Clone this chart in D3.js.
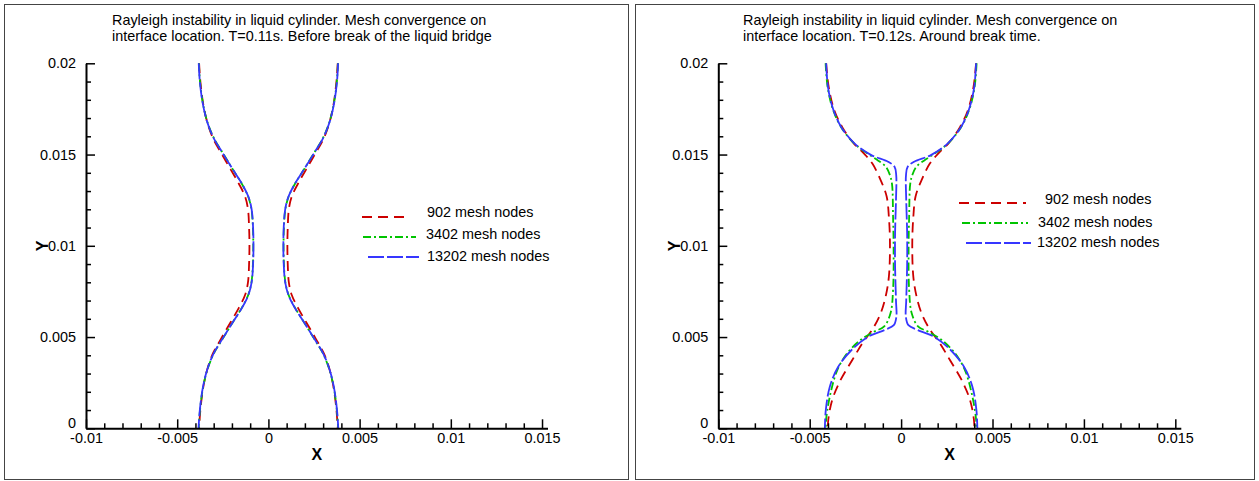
<!DOCTYPE html>
<html lang="en">
<head>
<meta charset="UTF-8">
<title>Rayleigh instability - mesh convergence</title>
<script src="https://d3js.org/d3.v7.min.js"></script>
<style>
  body { margin: 0; background: #fff; }
  svg { display: block; font-family: "Liberation Sans", Arial, Helvetica, sans-serif; }
  .frame { fill: none; stroke: #444; stroke-width: 1; }
  .axis .domain { stroke: #000; stroke-width: 2; }
  .axis line { stroke: #000; stroke-width: 1.5; }
  .axis text { font-size: 14.4px; fill: #000; font-family: "Liberation Sans", Arial, sans-serif; }
  .title, .legend text { font-size: 14.4px; fill: #000; }
  .axlabel { font-size: 16px; font-weight: bold; }
  .curve { fill: none; stroke-width: 1.8; }
</style>
</head>
<body>
<script>
// series
const seriesNames = ["902 mesh nodes", "3402 mesh nodes", "13202 mesh nodes"];
const seriesColors = ["#cc0000", "#00c400", "#3636ff"];
const seriesDash = ["10,6", "8,3,2,3", "16,3"];

// ticks
const xTicks = [-0.01, -0.005, 0, 0.005, 0.01, 0.015];
const xTickLabels = ["-0.01", "-0.005", "0", "0.005", "0.01", "0.015"];
const xMinor = [-0.009, -0.008, -0.007, -0.006, -0.004, -0.003, -0.002, -0.001,
  0.001, 0.002, 0.003, 0.004, 0.006, 0.007, 0.008, 0.009, 0.011, 0.012, 0.013, 0.014];
const yTicks = [0, 0.005, 0.01, 0.015, 0.02];
const yTickLabels = ["0", "0.005", "0.01", "0.015", "0.02"];
const yMinor = [0.001, 0.002, 0.003, 0.004, 0.006, 0.007, 0.008, 0.009,
  0.011, 0.012, 0.013, 0.014, 0.016, 0.017, 0.018, 0.019];

const titleA = ["Rayleigh instability in liquid cylinder. Mesh convergence on",
  "interface location. T=0.11s. Before break of the liquid bridge"];
const titleB = ["Rayleigh instability in liquid cylinder. Mesh convergence on",
  "interface location. T=0.12s. Around break time."];

// T=0.11s interface, y values and x of right / left branch
const a902_y  = [0.0200, 0.0190, 0.0178, 0.0168, 0.0159, 0.0151, 0.0142, 0.0134, 0.0127, 0.0120, 0.0110, 0.0100, 0.0090, 0.0080, 0.0073, 0.0066, 0.0058, 0.0049, 0.0041, 0.0032, 0.0022, 0.0010, 0.0000];
const a902_xr = [0.00380, 0.00373, 0.00358, 0.00336, 0.00304, 0.00260, 0.00208, 0.00162, 0.00128, 0.00112, 0.00106, 0.00104, 0.00106, 0.00112, 0.00128, 0.00162, 0.00208, 0.00260, 0.00304, 0.00336, 0.00358, 0.00373, 0.00380];
const a902_xl = [-0.00380, -0.00373, -0.00358, -0.00336, -0.00304, -0.00260, -0.00208, -0.00162, -0.00128, -0.00112, -0.00106, -0.00104, -0.00106, -0.00112, -0.00128, -0.00162, -0.00208, -0.00260, -0.00304, -0.00336, -0.00358, -0.00373, -0.00380];

const a3402_y  = [0.0200, 0.0190, 0.0178, 0.0168, 0.0159, 0.0151, 0.0142, 0.0134, 0.0127, 0.0120, 0.0110, 0.0100, 0.0090, 0.0080, 0.0073, 0.0066, 0.0058, 0.0049, 0.0041, 0.0032, 0.0022, 0.0010, 0.0000];
const a3402_xr = [0.00381, 0.00375, 0.00359, 0.00335, 0.00299, 0.00251, 0.00196, 0.00146, 0.00111, 0.00093, 0.00085, 0.00083, 0.00085, 0.00093, 0.00111, 0.00146, 0.00196, 0.00251, 0.00299, 0.00335, 0.00359, 0.00375, 0.00382];
const a3402_xl = [-0.00381, -0.00375, -0.00359, -0.00335, -0.00299, -0.00251, -0.00196, -0.00146, -0.00111, -0.00093, -0.00085, -0.00083, -0.00085, -0.00093, -0.00111, -0.00146, -0.00196, -0.00251, -0.00299, -0.00335, -0.00359, -0.00375, -0.00382];

const a13202_y  = [0.0200, 0.0190, 0.0178, 0.0168, 0.0159, 0.0151, 0.0142, 0.0134, 0.0127, 0.0120, 0.0110, 0.0100, 0.0090, 0.0080, 0.0073, 0.0066, 0.0058, 0.0049, 0.0041, 0.0032, 0.0022, 0.0010, 0.0000];
const a13202_xr = [0.00382, 0.00376, 0.00360, 0.00336, 0.00300, 0.00252, 0.00196, 0.00145, 0.00110, 0.00092, 0.00084, 0.00082, 0.00084, 0.00092, 0.00110, 0.00145, 0.00196, 0.00252, 0.00300, 0.00336, 0.00360, 0.00376, 0.00383];
const a13202_xl = [-0.00382, -0.00376, -0.00360, -0.00336, -0.00300, -0.00252, -0.00196, -0.00145, -0.00110, -0.00092, -0.00084, -0.00082, -0.00084, -0.00092, -0.00110, -0.00145, -0.00196, -0.00252, -0.00300, -0.00336, -0.00360, -0.00376, -0.00383];

// T=0.12s interface
const b902_y  = [0.0200, 0.0187, 0.0175, 0.0165, 0.0156, 0.01507, 0.01452, 0.0136, 0.0127, 0.0116, 0.0101, 0.0083, 0.0072, 0.0063, 0.0054, 0.00466, 0.00374, 0.00265, 0.00155, 0.0005, 0.0000];
const b902_xr = [0.00410, 0.00396, 0.00368, 0.00322, 0.00258, 0.00204, 0.00158, 0.00112, 0.00079, 0.00067, 0.00061, 0.00067, 0.00085, 0.00112, 0.00158, 0.00212, 0.00267, 0.00331, 0.00377, 0.00398, 0.00401];
const b902_xl = [-0.00410, -0.00396, -0.00368, -0.00322, -0.00258, -0.00204, -0.00158, -0.00112, -0.00079, -0.00067, -0.00061, -0.00067, -0.00085, -0.00112, -0.00158, -0.00212, -0.00267, -0.00331, -0.00377, -0.00398, -0.00401];

const b3402_y  = [0.0200, 0.0187, 0.0175, 0.0165, 0.0156, 0.0150, 0.0147, 0.01435, 0.0139, 0.0134, 0.0116, 0.0098, 0.0076, 0.0063, 0.00557, 0.00529, 0.00484, 0.00411, 0.00319, 0.00192, 0.0006, 0.0000];
const b3402_xr = [0.00413, 0.00402, 0.00374, 0.00328, 0.00256, 0.00175, 0.00130, 0.00085, 0.00062, 0.00050, 0.00044, 0.00041, 0.00044, 0.00058, 0.00094, 0.00149, 0.00222, 0.00295, 0.00349, 0.00386, 0.00409, 0.00412];
const b3402_xl = [-0.00413, -0.00402, -0.00374, -0.00328, -0.00256, -0.00175, -0.00130, -0.00085, -0.00062, -0.00050, -0.00044, -0.00041, -0.00044, -0.00058, -0.00094, -0.00149, -0.00222, -0.00295, -0.00349, -0.00386, -0.00409, -0.00412];

const b13202_y  = [0.0200, 0.0187, 0.0175, 0.0165, 0.0156, 0.01497, 0.01461, 0.01433, 0.0139, 0.0125, 0.0107, 0.0089, 0.0070, 0.0061, 0.00565, 0.00539, 0.00502, 0.00429, 0.00337, 0.00228, 0.0010, 0.0000];
const b13202_xr = [0.00410, 0.00400, 0.00372, 0.00327, 0.00254, 0.00163, 0.00072, 0.00036, 0.00027, 0.00028, 0.00033, 0.00033, 0.00028, 0.00026, 0.00040, 0.00089, 0.00180, 0.00271, 0.00344, 0.00390, 0.00412, 0.00417];
const b13202_xl = [-0.00410, -0.00400, -0.00372, -0.00327, -0.00254, -0.00163, -0.00072, -0.00036, -0.00027, -0.00028, -0.00033, -0.00033, -0.00028, -0.00026, -0.00040, -0.00089, -0.00180, -0.00271, -0.00344, -0.00390, -0.00412, -0.00417];

const W = 1259, H = 481;
const svg = d3.select("body").append("svg").attr("width", W).attr("height", H);

const panels = [
  {
    frame: [4.5, 4.5, 624, 475], xRange: [86, 547.5], title: titleA, titleX: 112,
    curves: [[a902_y, a902_xr, a902_xl], [a3402_y, a3402_xr, a3402_xl], [a13202_y, a13202_xr, a13202_xl]],
    legend: [[362, 409, 217, 427, 217], [363, 416, 237, 426, 239], [368, 419, 257, 427, 261]]
  },
  {
    frame: [635.5, 4.5, 619, 475], xRange: [718.3, 1180.8], title: titleB, titleX: 743,
    curves: [[b902_y, b902_xr, b902_xl], [b3402_y, b3402_xr, b3402_xl], [b13202_y, b13202_xr, b13202_xl]],
    legend: [[959, 1026, 203, 1045, 204], [962, 1028, 223, 1038, 227], [966, 1031, 243, 1037, 247]]
  }
];

panels.forEach(p => {
  const g = svg.append("g");
  g.append("rect").attr("class", "frame")
    .attr("x", p.frame[0]).attr("y", p.frame[1])
    .attr("width", p.frame[2]).attr("height", p.frame[3]);

  const x = d3.scaleLinear().domain([-0.01, 0.0153]).range(p.xRange);
  const y = d3.scaleLinear().domain([0, 0.02]).range([428.3, 63.3]);

  // title
  p.title.forEach((t, i) => {
    g.append("text").attr("class", "title")
      .attr("x", p.titleX).attr("y", 25 + i * 16).text(t);
  });

  // curves (902 first, finest mesh on top)
  const line = d3.line().x(d => x(d[0])).y(d => y(d[1])).curve(d3.curveCatmullRom.alpha(0.5));
  p.curves.forEach((c, i) => {
    const ys = c[0];
    [c[1], c[2]].forEach(xs => {
      g.append("path").attr("class", "curve")
        .attr("d", line(ys.map((v, j) => [xs[j], v])))
        .attr("stroke", seriesColors[i])
        .attr("stroke-dasharray", seriesDash[i]);
    });
  });

  // axes
  const y0 = y(0), x0 = p.xRange[0];
  g.append("g").attr("class", "axis").attr("transform", `translate(0,${y0})`)
    .call(d3.axisBottom(x).tickValues(xMinor).tickSize(-5).tickSizeOuter(0).tickFormat(""))
    .call(s => s.select(".domain").remove());
  g.append("g").attr("class", "axis").attr("transform", `translate(${x0},0)`)
    .call(d3.axisLeft(y).tickValues(yMinor).tickSize(-5).tickSizeOuter(0).tickFormat(""))
    .call(s => s.select(".domain").remove());
  g.append("g").attr("class", "axis").attr("transform", `translate(0,${y0})`)
    .call(d3.axisBottom(x).tickValues(xTicks).tickSize(-9).tickSizeOuter(0).tickPadding(4)
      .tickFormat((d, i) => xTickLabels[i]));
  g.append("g").attr("class", "axis").attr("transform", `translate(${x0},0)`)
    .call(d3.axisLeft(y).tickValues(yTicks).tickSize(-9).tickSizeOuter(0).tickPadding(10)
      .tickFormat((d, i) => yTickLabels[i]))
    // lift the corner "0" a little so it clears the x label below it
    .call(s => s.selectAll(".tick text").filter(d => d === 0).attr("dy", "-0.08em"));

  // axis titles
  g.append("text").attr("class", "axlabel").attr("text-anchor", "middle")
    .attr("x", (p.xRange[0] + p.xRange[1]) / 2).attr("y", 460).text("X");
  g.append("text").attr("class", "axlabel").attr("text-anchor", "middle")
    .attr("transform", `translate(${x0 - 44},${y(0.01)}) rotate(-90)`)
    .attr("dy", "0.36em").text("Y");

  // legend
  const lg = g.append("g").attr("class", "legend");
  p.legend.forEach((l, i) => {
    lg.append("line").attr("x1", l[0]).attr("x2", l[1]).attr("y1", l[2]).attr("y2", l[2])
      .attr("stroke", seriesColors[i]).attr("stroke-width", 1.8)
      .attr("stroke-dasharray", seriesDash[i]);
    lg.append("text").attr("x", l[3]).attr("y", l[4]).text(seriesNames[i]);
  });
});
</script>
</body>
</html>
